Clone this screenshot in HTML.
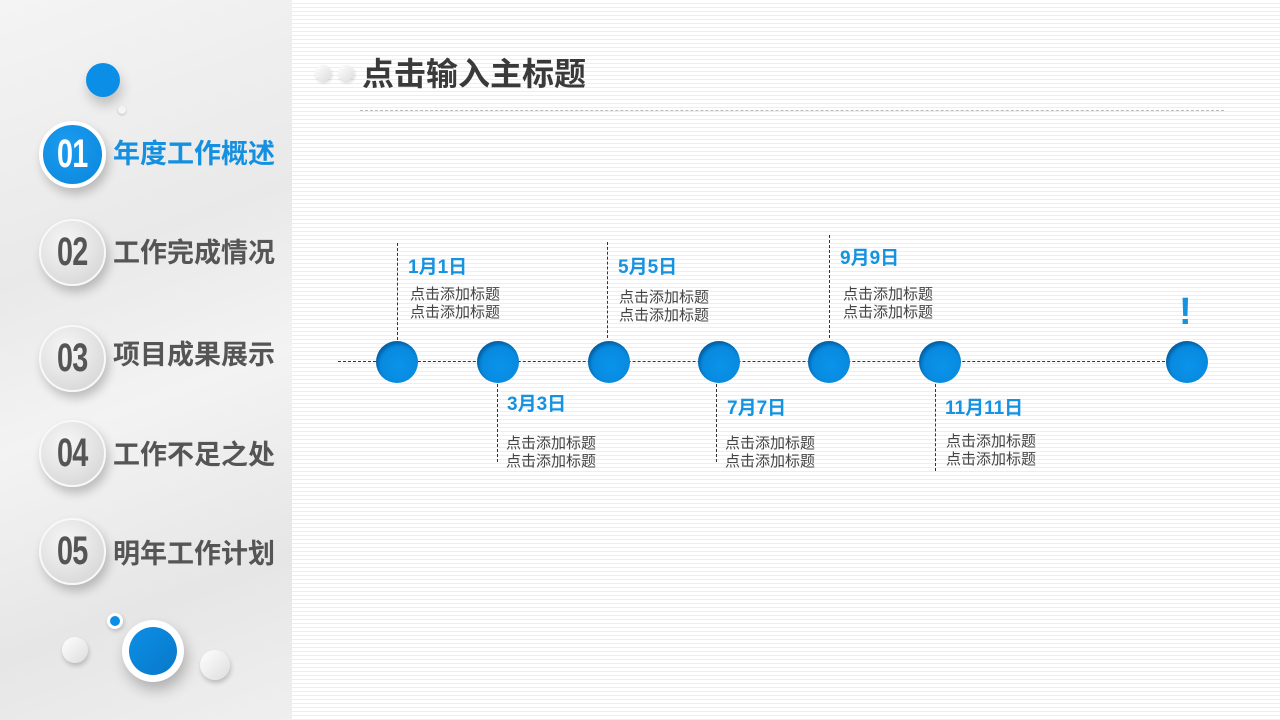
<!DOCTYPE html>
<html><head><meta charset="utf-8"><style>
*{margin:0;padding:0;box-sizing:border-box}
body{width:1280px;height:720px;overflow:hidden;position:relative;font-family:"Liberation Sans","Noto Sans CJK SC",sans-serif;
background:repeating-linear-gradient(to bottom,#fff 0,#fff 3px,#eeeeee 3px,#eeeeee 4px);}
.a{position:absolute}
.left{left:0;top:0;width:292px;height:720px;background:linear-gradient(160deg,#f4f4f4 0%,#e9e9e9 35%,#f3f3f3 55%,#e6e6e6 80%,#efefef 100%);}
.mc{position:absolute;left:39px;width:67px;height:67px;border-radius:50%;background:radial-gradient(circle at 40% 35%,#f7f7f7,#dcdcdc 70%,#cfcfcf);box-shadow:3px 6px 10px rgba(0,0,0,.22);border:2px solid #f8f8f8;color:#555;text-align:center;line-height:63px}
.mc span{display:inline-block;font-weight:bold;font-size:40px;transform:scaleX(.72);letter-spacing:-1px}
.mc.on{background:radial-gradient(circle at 40% 35%,#1a9cf0,#0a86db);border:4px solid #fff;color:#fff;line-height:59px}
.mt{position:absolute;left:113px;font-size:27px;font-weight:bold;color:#555;line-height:30px}
.dot{position:absolute;width:42px;height:42px;border-radius:50%;background:radial-gradient(circle at 55% 60%,#0a93ea,#0788dd 70%,#0a6fb8);box-shadow:inset 2px 3px 3px rgba(0,60,110,.5)}
.vl{position:absolute;width:0;border-left:1px dashed #333}
.dt{position:absolute;font-size:19px;font-weight:bold;color:#1592e0;line-height:20px}
.tx{position:absolute;font-size:15px;color:#444;line-height:18px}
</style></head><body>
<div class="a left"></div>
<div class="a" style="left:86px;top:63px;width:34px;height:34px;border-radius:50%;background:#0b8fe6;box-shadow:2px 8px 12px rgba(0,0,0,.2)"></div>
<div class="a" style="left:118px;top:106px;width:8px;height:8px;border-radius:50%;background:#f4f4f4;box-shadow:0 1px 2px rgba(0,0,0,.2)"></div>
<div class="mc on" style="top:121px"><span>01</span></div><div class="mt" style="top:139px;color:#1590e0">年度工作概述</div>
<div class="mc" style="top:219px"><span>02</span></div><div class="mt" style="top:238px">工作完成情况</div>
<div class="mc" style="top:325px"><span>03</span></div><div class="mt" style="top:340px">项目成果展示</div>
<div class="mc" style="top:420px"><span>04</span></div><div class="mt" style="top:440px">工作不足之处</div>
<div class="mc" style="top:518px"><span>05</span></div><div class="mt" style="top:539px">明年工作计划</div>
<div class="a" style="left:107px;top:613px;width:16px;height:16px;border-radius:50%;background:#0b8fe6;border:3px solid #fff;box-shadow:1px 2px 4px rgba(0,0,0,.2)"></div>
<div class="a" style="left:122px;top:620px;width:62px;height:62px;border-radius:50%;background:#fff;box-shadow:3px 8px 14px rgba(0,0,0,.25)"><div style="margin:7px;width:48px;height:48px;border-radius:50%;background:linear-gradient(135deg,#0b8fe6,#0a78c8)"></div></div>
<div class="a" style="left:62px;top:637px;width:26px;height:26px;border-radius:50%;background:linear-gradient(135deg,#fff,#ddd);box-shadow:1px 3px 5px rgba(0,0,0,.2)"></div>
<div class="a" style="left:200px;top:650px;width:30px;height:30px;border-radius:50%;background:linear-gradient(135deg,#fff,#ddd);box-shadow:1px 3px 5px rgba(0,0,0,.2)"></div>

<div class="a" style="left:315px;top:65px;width:16px;height:16px;border-radius:50%;background:linear-gradient(135deg,#fff,#ddd);box-shadow:1px 2px 3px rgba(0,0,0,.15)"></div>
<div class="a" style="left:338px;top:65px;width:16px;height:16px;border-radius:50%;background:linear-gradient(135deg,#fff,#ddd);box-shadow:1px 2px 3px rgba(0,0,0,.15)"></div>
<div class="a" style="left:362px;top:55px;font-size:32px;font-weight:bold;color:#3a3a3a;line-height:38px">点击输入主标题</div>
<div class="a" style="left:360px;top:110px;width:864px;border-top:1px dashed #bbb"></div>

<div class="a" style="left:338px;top:361px;width:832px;border-top:1px dashed #333"></div>
<div class="vl" style="left:397px;top:243px;height:97px"></div>
<div class="vl" style="left:607px;top:242px;height:96px"></div>
<div class="vl" style="left:829px;top:235px;height:103px"></div>
<div class="vl" style="left:497px;top:384px;height:78px"></div>
<div class="vl" style="left:716px;top:384px;height:78px"></div>
<div class="vl" style="left:935px;top:384px;height:87px"></div>

<div class="dot" style="left:376px;top:341px"></div>
<div class="dot" style="left:477px;top:341px"></div>
<div class="dot" style="left:588px;top:341px"></div>
<div class="dot" style="left:698px;top:341px"></div>
<div class="dot" style="left:808px;top:341px"></div>
<div class="dot" style="left:919px;top:341px"></div>
<div class="dot" style="left:1166px;top:341px"></div>
<div class="a" style="left:1179px;top:292px;font-size:38px;font-weight:bold;color:#1592e0;line-height:40px">!</div>

<div class="dt" style="left:408px;top:258px">1月1日</div>
<div class="tx" style="left:410px;top:286px">点击添加标题<br>点击添加标题</div>
<div class="dt" style="left:618px;top:258px">5月5日</div>
<div class="tx" style="left:619px;top:289px">点击添加标题<br>点击添加标题</div>
<div class="dt" style="left:840px;top:249px">9月9日</div>
<div class="tx" style="left:843px;top:286px">点击添加标题<br>点击添加标题</div>
<div class="dt" style="left:507px;top:395px">3月3日</div>
<div class="tx" style="left:506px;top:435px">点击添加标题<br>点击添加标题</div>
<div class="dt" style="left:727px;top:399px">7月7日</div>
<div class="tx" style="left:725px;top:435px">点击添加标题<br>点击添加标题</div>
<div class="dt" style="left:945px;top:399px">11月11日</div>
<div class="tx" style="left:946px;top:433px">点击添加标题<br>点击添加标题</div>
</body></html>
